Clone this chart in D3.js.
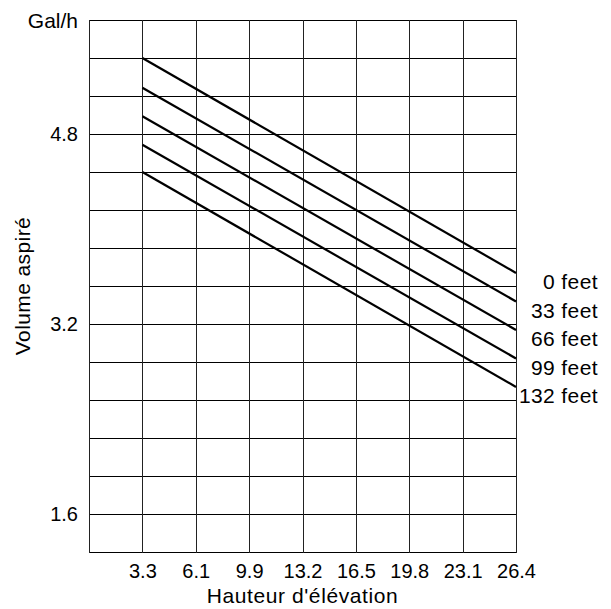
<!DOCTYPE html>
<html>
<head>
<meta charset="utf-8">
<script src="https://cdn.jsdelivr.net/npm/d3@7"></script>
<style>
  body { margin: 0; background: #fff; }
  text { font-family: "Liberation Sans", Arial, sans-serif; fill: #000; }
</style>
</head>
<body>
<script>
// chart values
const xLabels = ["3.3", "6.1", "9.9", "13.2", "16.5", "19.8", "23.1", "26.4"];
const yTicks = [1.6, 3.2, 4.8];
const yGrid = [1.28, 1.6, 1.92, 2.24, 2.56, 2.88, 3.2, 3.52, 3.84, 4.16, 4.48, 4.8, 5.12, 5.44, 5.76];
const elevations = ["0 feet", "33 feet", "66 feet", "99 feet", "132 feet"];
const startValues = [5.44, 5.19, 4.95, 4.71, 4.48]; // at 3.3
const endValues = [3.63, 3.39, 3.15, 2.91, 2.67]; // at 26.4

const margin = { top: 20, right: 95, bottom: 57, left: 89 };
const width = 611 - margin.left - margin.right,
  height = 609 - margin.top - margin.bottom;
const tickSize = 20,
  titleSize = 21;

const svg = d3
  .select("body")
  .append("svg")
  .attr("width", width + margin.left + margin.right)
  .attr("height", height + margin.top + margin.bottom)
  .append("g")
  .attr("transform", "translate(" + margin.left + "," + margin.top + ")");

// scales: the x axis is evenly spaced, first slot is the origin without label
const xScale = d3.scalePoint().domain([""].concat(xLabels)).range([0, width]);
const yScale = d3.scaleLinear().domain([1.28, 5.76]).range([height, 0]);

// grid
svg
  .append("g")
  .selectAll("line")
  .data(yGrid)
  .enter()
  .append("line")
  .attr("x1", 0)
  .attr("x2", width)
  .attr("y1", (d) => Math.round(yScale(d)) + 0.5)
  .attr("y2", (d) => Math.round(yScale(d)) + 0.5)
  .attr("stroke", "#000")
  .attr("stroke-width", 1);

svg
  .append("g")
  .selectAll("line")
  .data(xScale.domain())
  .enter()
  .append("line")
  .attr("x1", (d) => Math.round(xScale(d)) + 0.5)
  .attr("x2", (d) => Math.round(xScale(d)) + 0.5)
  .attr("y1", yScale(5.76))
  .attr("y2", yScale(1.28) + 1)
  .attr("stroke", "#222")
  .attr("stroke-width", 1);

// axes (labels only, grid drawn above)
const xAxis = d3.axisBottom(xScale).tickValues(xLabels).tickSize(0).tickPadding(12);
const yAxis = d3.axisLeft(yScale).tickValues(yTicks).tickSize(0).tickPadding(11).tickFormat(d3.format(".1f"));

const gx = svg.append("g").attr("transform", `translate(0, ${height})`).call(xAxis);
const gy = svg.append("g").call(yAxis);
[gx, gy].forEach((g) => {
  g.select(".domain").remove();
  g.selectAll("text").attr("font-size", tickSize).attr("font-family", null).attr("fill", "#000");
});

// series lines
const line = d3
  .line()
  .x((d) => xScale(d.x))
  .y((d) => yScale(d.y));

const series = elevations.map((name, i) => ({
  name: name,
  values: [
    { x: xLabels[0], y: startValues[i] },
    { x: xLabels[xLabels.length - 1], y: endValues[i] },
  ],
}));

svg
  .selectAll(".series")
  .data(series)
  .enter()
  .append("path")
  .attr("class", "series")
  .attr("fill", "none")
  .attr("stroke", "#000")
  .attr("stroke-width", 2.2)
  .attr("d", (d) => line(d.values));

// series labels at the right end
svg
  .selectAll(".label")
  .data(series)
  .enter()
  .append("text")
  .attr("class", "label")
  .attr("x", width + 82)
  .attr("y", (d) => yScale(d.values[1].y) + 9)
  .attr("dy", "0.35em")
  .attr("text-anchor", "end")
  .attr("font-size", titleSize)
  .attr("letter-spacing", 0.4)
  .text((d) => d.name);

// axis titles
svg
  .append("text")
  .attr("x", -11)
  .attr("y", 1)
  .attr("dy", "0.35em")
  .attr("text-anchor", "end")
  .attr("font-size", titleSize)
  .text("Gal/h");

svg
  .append("text")
  .attr("transform", "rotate(-90)")
  .attr("x", -height / 2)
  .attr("y", -59)
  .attr("text-anchor", "middle")
  .attr("font-size", titleSize)
  .attr("letter-spacing", 0.4)
  .text("Volume aspiré");

svg
  .append("text")
  .attr("x", width / 2)
  .attr("y", height + 51)
  .attr("text-anchor", "middle")
  .attr("font-size", titleSize)
  .attr("letter-spacing", 0.6)
  .text("Hauteur d'élévation");
</script>
</body>
</html>
